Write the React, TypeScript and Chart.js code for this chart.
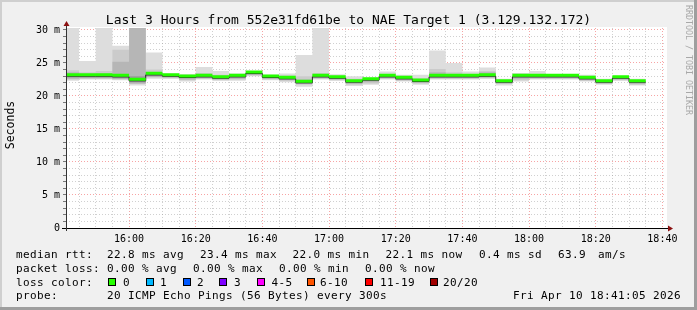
import React, { useEffect, useRef } from "react";
import { Chart, registerables } from "chart.js";

Chart.register(...registerables);

// ---- data -------------------------------------------------------------
const stepStarts = [
  "15:40", "15:45", "15:50", "15:55", "16:00", "16:05", "16:10", "16:15", "16:20", "16:25",
  "16:30", "16:35", "16:40", "16:45", "16:50", "16:55", "17:00", "17:05", "17:10", "17:15",
  "17:20", "17:25", "17:30", "17:35", "17:40", "17:45", "17:50", "17:55", "18:00", "18:05",
  "18:10", "18:15", "18:20", "18:25", "18:30",
];
const lastStepEnd = "18:35";
const rangeStart = "15:41:05";
const rangeEnd = "18:41:05";

// median RTT (ms) per 5-minute step
const median = [
  23.0, 23.0, 23.0, 22.9, 22.3, 23.2, 23.0, 22.8, 22.9, 22.7,
  22.9, 23.4, 22.8, 22.6, 22.0, 22.9, 22.7, 22.1, 22.4, 22.9,
  22.6, 22.2, 22.9, 22.9, 22.9, 23.0, 22.1, 22.9, 22.9, 22.9,
  22.9, 22.6, 22.1, 22.7, 22.1,
];
// smoke: slowest / fastest ping
const smokeMax = [
  31.0, 25.3, 31.0, 27.6, 31.0, 26.6, 23.4, 23.3, 24.4, 23.8,
  23.4, 23.8, 23.2, 23.4, 26.2, 31.0, 23.3, 23.0, 22.8, 23.7,
  23.2, 23.2, 26.9, 25.0, 23.7, 24.3, 22.6, 23.5, 23.8, 23.3,
  23.3, 23.2, 22.6, 23.0, 22.6,
];
const smokeMin = [
  22.3, 22.5, 22.5, 22.4, 21.6, 22.6, 22.6, 22.2, 22.5, 22.3,
  22.3, 23.0, 22.4, 22.1, 21.4, 22.5, 22.3, 21.5, 21.7, 22.5,
  22.2, 21.7, 22.5, 22.5, 22.5, 22.6, 21.6, 22.2, 22.5, 22.5,
  22.5, 22.2, 21.7, 22.3, 21.6,
];
// second band
const smokeHi2 = [
  23.9, 23.6, 23.8, 27.0, 31.0, 24.0, 23.3, 23.1, 23.5, 23.2,
  23.2, 23.7, 23.0, 23.1, 23.0, 23.5, 23.0, 22.6, 22.6, 23.3,
  23.0, 22.7, 24.1, 23.6, 23.3, 23.8, 22.4, 23.2, 23.3, 23.2,
  23.2, 23.0, 22.4, 22.9, 22.4,
];
const smokeLo2 = [
  22.5, 22.6, 22.6, 22.5, 21.8, 22.8, 22.7, 22.4, 22.6, 22.4,
  22.5, 23.1, 22.5, 22.3, 21.7, 22.6, 22.4, 21.7, 21.9, 22.6,
  22.3, 21.9, 22.6, 22.6, 22.6, 22.7, 21.8, 22.4, 22.6, 22.6,
  22.6, 22.3, 21.8, 22.4, 21.7,
];
// third band
const smokeHi3 = [
  23.6, 23.3, 23.4, 25.2, 31.0, 23.6, 23.2, 23.0, 23.2, 23.0,
  23.1, 23.6, 22.9, 22.9, 22.5, 23.2, 22.9, 22.4, 22.5, 23.1,
  22.8, 22.5, 23.6, 23.3, 23.1, 23.6, 22.3, 23.1, 23.1, 23.1,
  23.1, 22.8, 22.3, 22.8, 22.3,
];
const smokeLo3 = [
  22.6, 22.7, 22.7, 22.6, 21.9, 22.9, 22.8, 22.5, 22.7, 22.5,
  22.6, 23.2, 22.6, 22.4, 21.8, 22.7, 22.5, 21.8, 22.1, 22.7,
  22.4, 22.0, 22.7, 22.7, 22.7, 22.8, 21.9, 22.6, 22.7, 22.7,
  22.7, 22.4, 21.9, 22.5, 21.8,
];
// inner band
const smokeHi4 = [
  23.2, 23.1, 23.2, 23.3, 23.0, 23.4, 23.1, 22.9, 23.0, 22.8,
  23.0, 23.5, 22.9, 22.7, 22.2, 23.0, 22.8, 22.2, 22.4, 23.0,
  22.7, 22.3, 23.2, 23.0, 23.0, 23.2, 22.2, 23.0, 23.0, 23.0,
  23.0, 22.7, 22.2, 22.8, 22.2,
];
const smokeLo4 = [
  22.8, 22.8, 22.8, 22.7, 22.1, 23.0, 22.9, 22.7, 22.8, 22.6,
  22.8, 23.3, 22.7, 22.5, 21.9, 22.8, 22.6, 22.0, 22.3, 22.8,
  22.5, 22.1, 22.8, 22.8, 22.8, 22.9, 22.0, 22.8, 22.8, 22.8,
  22.8, 22.5, 22.0, 22.6, 22.0,
];

const xTickLabels = ["16:00", "16:20", "16:40", "17:00", "17:20", "17:40", "18:00", "18:20", "18:40"];
const xMinorStepMin = 5;
const yTickValues = [0, 5, 10, 15, 20, 25, 30];
const yTickLabels = ["0", "5 m", "10 m", "15 m", "20 m", "25 m", "30 m"];
const yMinorStep = 1;
const yAxisMax = 30.3;

const title = "Last 3 Hours from 552e31fd61be to NAE Target 1 (3.129.132.172)";
const yTitle = "Seconds";
const sideText = "RRDTOOL / TOBI OETIKER";
const rttLine = ["median rtt:", "22.8 ms avg", "23.4 ms max", "22.0 ms min", "22.1 ms now", "0.4 ms sd", "63.9", "am/s"];
const lossLine = ["packet loss:", "0.00 % avg", "0.00 % max", "0.00 % min", "0.00 % now"];
const lossColorLabel = "loss color:";
const lossBuckets = ["0", "1", "2", "3", "4-5", "6-10", "11-19", "20/20"];
const lossColors = ["#26ff00", "#00b8ff", "#0059ff", "#7e00ff", "#ff00ff", "#ff5500", "#ff0000", "#a10000"];
const probeLine = ["probe:", "20 ICMP Echo Pings (56 Bytes) every 300s", "Fri Apr 10 18:41:05 2026"];

// ---- helpers ----------------------------------------------------------
const toMin = (s: string) => {
  const p = s.split(":").map(Number);
  return p[0] * 60 + p[1] + (p[2] || 0) / 60;
};
// point at each step start, plus closing point at the end of the last step
const stepPoints = (vals: number[]) => {
  const pts = vals.map((v, i) => ({ x: toMin(stepStarts[i]), y: v }));
  pts.push({ x: toMin(lastStepEnd), y: vals[vals.length - 1] });
  return pts;
};
// separate horizontal segments for each step (no vertical joins)
const segPoints = (vals: number[]) => {
  const pts: { x: number; y: number | null }[] = [];
  vals.forEach((v, i) => {
    const s = toMin(stepStarts[i]);
    const e = i + 1 < stepStarts.length ? toMin(stepStarts[i + 1]) : toMin(lastStepEnd);
    pts.push({ x: s, y: v }, { x: e, y: v }, { x: e, y: null });
  });
  return pts;
};

const MONO = "'DejaVu Sans Mono', monospace";
// Chart.js: 'before' = horizontal run at the previous value, then vertical jump
const STEP = "before";

const decor = {
  id: "decor",
  beforeDraw(chart: any) {
    const { ctx, width, height, chartArea: a } = chart;
    ctx.save();
    ctx.fillStyle = "#f0f0f0";
    ctx.fillRect(0, 0, width, height);
    ctx.fillStyle = "#cfcfcf";
    ctx.fillRect(0, 0, width, 2);
    ctx.fillRect(0, 0, 2, height);
    ctx.fillStyle = "#9e9e9e";
    ctx.fillRect(0, height - 3, width, 3);
    ctx.fillRect(width - 3, 0, 3, height);
    ctx.fillStyle = "#ffffff";
    ctx.fillRect(a.left, a.top - 1, a.right - a.left + 1, a.bottom - a.top + 1);
    ctx.restore();
  },
  beforeDatasetDraw(chart: any, args: any) {
    if (args.index === 0) {
      chart.ctx.save();
      chart.ctx.translate(0, -1.5);
    }
  },
  afterDatasetDraw(chart: any, args: any) {
    if (args.index === 0) chart.ctx.restore();
  },
  afterDraw(chart: any) {
    const { ctx, chartArea: a } = chart;
    ctx.save();
    // axes
    ctx.strokeStyle = "#000";
    ctx.lineWidth = 1;
    ctx.beginPath();
    ctx.moveTo(a.left - 4, a.bottom + 0.5);
    ctx.lineTo(a.right + 2, a.bottom + 0.5);
    ctx.stroke();
    ctx.strokeStyle = "#333";
    ctx.beginPath();
    ctx.moveTo(a.left + 0.5, a.bottom + 3);
    ctx.lineTo(a.left + 0.5, a.top - 2);
    ctx.stroke();
    // arrows
    ctx.fillStyle = "#8b1010";
    ctx.beginPath();
    ctx.moveTo(a.left + 0.5 - 3, a.top - 2);
    ctx.lineTo(a.left + 0.5 + 3, a.top - 2);
    ctx.lineTo(a.left + 0.5, a.top - 7);
    ctx.closePath();
    ctx.fill();
    ctx.beginPath();
    ctx.moveTo(a.right + 2, a.bottom + 0.5 - 3);
    ctx.lineTo(a.right + 2, a.bottom + 0.5 + 3);
    ctx.lineTo(a.right + 7, a.bottom + 0.5);
    ctx.closePath();
    ctx.fill();

    // title
    ctx.fillStyle = "#000";
    ctx.font = `13px ${MONO}`;
    ctx.textAlign = "center";
    ctx.textBaseline = "alphabetic";
    ctx.fillText(title, 348.5, 24);

    // y title
    ctx.save();
    ctx.font = `11.5px ${MONO}`;
    ctx.translate(14, 125);
    ctx.rotate(-Math.PI / 2);
    ctx.textAlign = "center";
    ctx.textBaseline = "alphabetic";
    ctx.fillText(yTitle, 0, 0);
    ctx.restore();

    // side text
    ctx.save();
    ctx.fillStyle = "#a8a8a8";
    ctx.font = `8.3px ${MONO}`;
    ctx.translate(688, 5);
    ctx.rotate(Math.PI / 2);
    ctx.textAlign = "left";
    ctx.textBaseline = "middle";
    ctx.fillText(sideText, 0, 0);
    ctx.restore();

    // legend
    ctx.font = `11px ${MONO}`;
    (ctx as any).letterSpacing = "0.38px";
    ctx.textAlign = "left";
    ctx.textBaseline = "alphabetic";
    ctx.fillStyle = "#000";
    const r1x = [16, 107, 200, 292.5, 385.5, 479, 558, 598];
    rttLine.forEach((t, i) => ctx.fillText(t, r1x[i], 258));
    const r2x = [16, 107, 193, 279, 365];
    lossLine.forEach((t, i) => ctx.fillText(t, r2x[i], 272));
    ctx.fillText(lossColorLabel, 16, 285.5);
    const boxX = [108, 145.5, 182.5, 219, 256.5, 307, 365, 430];
    const labX = [123, 160, 197, 234, 271.5, 320, 380, 443];
    lossBuckets.forEach((t, i) => {
      ctx.fillStyle = lossColors[i];
      ctx.fillRect(Math.round(boxX[i]), 278, 8, 8);
      ctx.strokeStyle = "#000";
      ctx.strokeRect(Math.round(boxX[i]) + 0.5, 278.5, 7, 7);
      ctx.fillStyle = "#000";
      ctx.fillText(t, labX[i], 285.5);
    });
    const r4x = [16, 107, 513];
    probeLine.forEach((t, i) => ctx.fillText(t, r4x[i], 299));
    ctx.restore();
  },
};

export default function App() {
  const ref = useRef<HTMLCanvasElement | null>(null);

  useEffect(() => {
    if (!ref.current) return;
    const xMajor = new Set(xTickLabels.map(toMin));
    const yMajor = new Set(yTickValues);
    const xMin = toMin(rangeStart);
    const xMax = toMin(rangeEnd);

    const band = (lo: number[], hi: number[], loIdx: number, color: string, order: number) => [
      {
        data: stepPoints(lo),
        stepped: STEP,
        borderWidth: 0,
        borderColor: "transparent",
        pointRadius: 0,
        fill: false,
        order,
      },
      {
        data: stepPoints(hi),
        stepped: STEP,
        borderWidth: 0,
        borderColor: "transparent",
        backgroundColor: color,
        pointRadius: 0,
        fill: loIdx,
        order,
      },
    ];

    const datasets: any[] = [
      {
        data: segPoints(median),
        borderColor: "#26ff00",
        borderWidth: 3,
        pointRadius: 0,
        fill: false,
        spanGaps: false,
        borderCapStyle: "butt",
        order: 0,
      },
      {
        data: stepPoints(median),
        stepped: STEP,
        borderColor: "#202020",
        borderWidth: 1,
        pointRadius: 0,
        fill: false,
        order: 1,
      },
      ...band(smokeLo4, smokeHi4, 2, "#9a9a9a", 2),
      ...band(smokeLo3, smokeHi3, 4, "#b6b6b6", 3),
      ...band(smokeLo2, smokeHi2, 6, "#cbcbcb", 4),
      ...band(smokeMin, smokeMax, 8, "#dddddd", 5),
    ];

    const chart = new Chart(ref.current, {
      type: "line",
      data: { datasets },
      plugins: [decor],
      options: {
        animation: false,
        responsive: false,
        maintainAspectRatio: false,
        events: [],
        layout: { padding: { left: 0, top: 28, right: 31, bottom: 62 } },
        plugins: {
          legend: { display: false },
          tooltip: { enabled: false },
          title: { display: false },
        },
        elements: { point: { radius: 0 }, line: { tension: 0 } },
        scales: {
          x: {
            type: "linear",
            min: xMin,
            max: xMax,
            afterBuildTicks: (s: any) => {
              const t: any[] = [];
              const first = Math.ceil(xMin / xMinorStepMin) * xMinorStepMin;
              for (let v = first; v <= xMax; v += xMinorStepMin) t.push({ value: v });
              s.ticks = t;
            },
            afterFit: (s: any) => {
              s.height = 20;
            },
            grid: {
              color: (c: any) =>
                c.tick && xMajor.has(c.tick.value) ? "rgba(240,90,90,0.55)" : "rgba(150,150,150,0.45)",
              lineWidth: 1,
              drawTicks: false,
            },
            border: { display: false, dash: [1, 2] },
            ticks: {
              autoSkip: false,
              maxRotation: 0,
              minRotation: 0,
              padding: 5,
              color: "#000",
              font: { family: MONO, size: 10 },
              callback: (v: any) => {
                const i = xTickLabels.findIndex((l) => toMin(l) === v);
                return i >= 0 ? xTickLabels[i] : "";
              },
            },
          },
          y: {
            type: "linear",
            min: 0,
            max: yAxisMax,
            afterBuildTicks: (s: any) => {
              const t: any[] = [];
              for (let v = 0; v <= 30; v += yMinorStep) t.push({ value: v });
              s.ticks = t;
            },
            afterFit: (s: any) => {
              s.width = 66;
            },
            grid: {
              color: (c: any) =>
                c.tick && yMajor.has(c.tick.value) ? "rgba(240,90,90,0.55)" : "rgba(150,150,150,0.45)",
              lineWidth: 1,
              drawTicks: true,
              tickLength: 3,
              tickColor: "rgba(90,90,90,0.8)",
            },
            border: { display: false, dash: [1, 2] },
            ticks: {
              autoSkip: false,
              padding: 3,
              color: "#000",
              font: { family: MONO, size: 10 },
              callback: (v: any) => {
                const i = yTickValues.indexOf(v);
                return i >= 0 ? yTickLabels[i] : "";
              },
            },
          },
        },
      } as any,
    } as any);

    return () => chart.destroy();
  }, []);

  return (
    <div style={{ position: "absolute", left: 0, top: 0, width: 697, height: 310 }}>
      <canvas ref={ref} width={697} height={310} style={{ display: "block" }} />
    </div>
  );
}
